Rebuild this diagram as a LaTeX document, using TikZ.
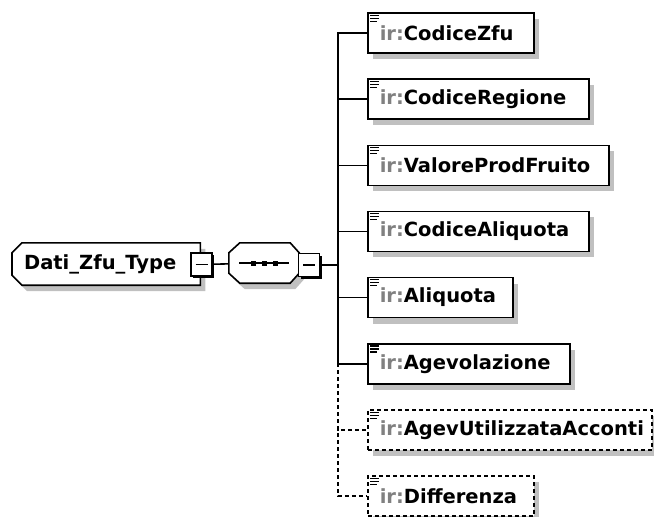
\documentclass[tikz,border=0pt]{standalone}
\usepackage{fontspec}
\setmainfont{DejaVu Sans}
\usetikzlibrary{shadows,backgrounds}
\definecolor{irgray}{HTML}{808080}
\definecolor{shadowgray}{HTML}{C0C0C0}
\tikzset{
  shade/.style={general shadow={fill=shadowgray, shadow xshift=5pt, shadow yshift=-6pt}},
  elem/.style={draw, line width=1.6pt, fill=white, shade, anchor=west, minimum height=40pt,
    inner xsep=0pt, align=left, font=\bfseries\fontsize{19.5}{20}\selectfont},
  opt/.style={elem, dash pattern=on 4pt off 3pt},
  btn/.style={draw, line width=1.6pt, fill=white, minimum width=21pt, minimum height=23pt,
    inner sep=0pt, general shadow={fill=black, shadow xshift=2pt, shadow yshift=-2pt}},
  conn/.style={line width=1.6pt},
  octa/.style={draw, line width=1.6pt, fill=white, shade, line join=miter}
}
\begin{document}
\begin{tikzpicture}[x=1pt, y=-1pt]
  \useasboundingbox (0,0) rectangle (654,517);

  \node[minimum width=188pt, minimum height=42pt, inner sep=0pt, anchor=west,
    font=\bfseries\fontsize{19.5}{20}\selectfont] (root) at (12,264)
    {\hspace*{8pt}Dati\_Zfu\_Type\hspace*{20pt}};
  \node[minimum width=70pt, minimum height=40pt, inner sep=0pt] (seq) at (264,263) {};
  \begin{scope}[on background layer]
    \draw[octa] ([xshift=10pt]root.north west) -- (root.north east) -- (root.south east)
      -- ([xshift=10pt]root.south west) -- ([yshift=10pt]root.south west)
      -- ([yshift=-10pt]root.north west) -- cycle;
    \draw[octa] ([xshift=11pt]seq.north west) -- ([xshift=-9pt]seq.north east)
      -- ([yshift=-10pt]seq.north east) -- ([yshift=10pt]seq.south east)
      -- ([xshift=-9pt]seq.south east) -- ([xshift=11pt]seq.south west)
      -- ([yshift=10pt]seq.south west) -- ([yshift=-10pt]seq.north west) -- cycle;
  \end{scope}

  \node[btn] (btn1) at (201.5,264.5) {};
  \draw[line width=1.3pt] (btn1.center) +(-6,0) -- +(6,0);
  \node[btn] (btn2) at (309,265) {};
  \draw[line width=1.3pt] (btn2.center) +(-6,0) -- +(6,0);
  \draw[conn] (btn1) -- (seq);
  \draw[line width=1.6pt] (seq.center) +(-25,0) -- +(25,0);
  \foreach \dx in {-11,0,11}
    \fill ([xshift=\dx pt]seq.center) +(-2.5,-2.5) rectangle +(2.5,2.5);

  \coordinate (trunk) at (338,265);
  \draw[conn] (btn2) -- (trunk);

  \foreach \i/\w/\t in {1/166/CodiceZfu, 2/221/CodiceRegione, 3/241/ValoreProdFruito,
      4/221/CodiceAliquota, 5/145/Aliquota, 6/202/Agevolazione} {
    \node[elem, text width=\w pt] (e\i) at (367,{33+(\i-1)*66.15})
      {\hspace*{12pt}\textcolor{irgray}{ir:}\t};
    \draw[conn] (trunk) |- (e\i.west);
  }
  \foreach \i/\w/\t in {7/284/AgevUtilizzataAcconti, 8/166/Differenza} {
    \node[opt, text width=\w pt] (e\i) at (367,{33+(\i-1)*66.15})
      {\hspace*{12pt}\textcolor{irgray}{ir:}\t};
    \draw[conn, dash pattern=on 4pt off 3pt] (trunk) |- (e\i.west);
  }

  \foreach \i in {1,...,8} {
    \draw[line width=1.2pt] ([shift={(3,3)}]e\i.north west) -- +(9,0);
    \draw[line width=1.2pt] ([shift={(3,6)}]e\i.north west) -- +(9,0);
    \draw[line width=1.2pt] ([shift={(3,9)}]e\i.north west) -- +(7,0);
  }
\end{tikzpicture}
\end{document}
